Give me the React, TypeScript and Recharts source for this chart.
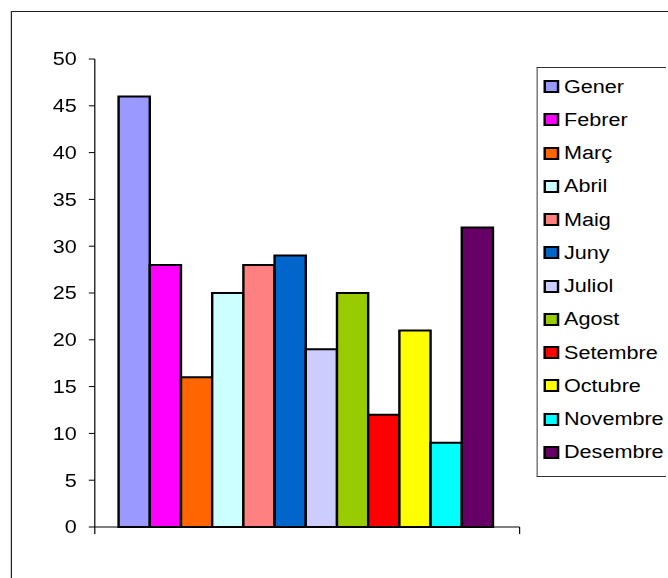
import React from "react";
import { BarChart, Bar, XAxis, YAxis } from "recharts";

const MONTHS = [
  "Gener", "Febrer", "Març", "Abril", "Maig", "Juny",
  "Juliol", "Agost", "Setembre", "Octubre", "Novembre", "Desembre",
];
const VALUES = [46, 28, 16, 25, 28, 29, 19, 25, 12, 21, 9, 32];
const COLORS = [
  "#9999FF", "#FF00FF", "#FF6600", "#CCFFFF", "#FF8080", "#0066CC",
  "#CCCCFF", "#99CC00", "#FF0000", "#FFFF00", "#00FFFF", "#660066",
];
const Y_TICKS = [0, 5, 10, 15, 20, 25, 30, 35, 40, 45, 50];
const EDGE_TICKS = [0, 1];

// the source picture is stretched sideways, so draw narrow and scale up
const STRETCH = 1.2;
const FONT = '"Liberation Sans", Arial, sans-serif';

const row: Record<string, number | string> = { name: "" };
MONTHS.forEach((m, i) => { row[m] = VALUES[i]; });
const data = [row];

function LegendBox() {
  return (
    <div style={{
      position: "absolute",
      left: 447,
      top: 67,
      width: 108,
      height: 410,
      borderTop: "1px solid #333",
      borderLeft: "1px solid #333",
      borderBottom: "1px solid #333",
      paddingTop: 2,
      boxSizing: "border-box",
      background: "#fff",
      overflow: "visible",
      whiteSpace: "nowrap",
    }}>
      {MONTHS.map((m, i) => (
        <div key={m} style={{ height: 33.25, display: "flex", alignItems: "center", paddingLeft: 5 }}>
          <span style={{
            width: 13, height: 13, flex: "none", boxSizing: "border-box",
            border: "2px solid #000", background: COLORS[i], display: "inline-block",
          }} />
          <span style={{ marginLeft: 4, fontSize: 18, lineHeight: 1, color: "#000" }}>{m}</span>
        </div>
      ))}
    </div>
  );
}

export default function App() {
  return (
    <div style={{ position: "fixed", left: 0, top: 0, width: 668, height: 578, overflow: "hidden", background: "#fff" }}>
      <div style={{
        position: "absolute", left: 0, top: 0, width: 557, height: 578,
        transform: `scaleX(${STRETCH})`, transformOrigin: "0 0", fontFamily: FONT,
      }}>
        <div style={{ position: "absolute", left: 9, top: 11, width: 640, height: 640, border: "1px solid #222" }} />
        <div style={{ position: "absolute", left: 0, top: 0 }}>
          <BarChart
            width={557}
            height={578}
            data={data}
            margin={{ top: 59, right: 124, left: 0, bottom: 21 }}
            barCategoryGap="5.6%"
            barGap={0}
          >
            <XAxis xAxisId="cat" dataKey="name" type="category" hide height={0} orientation="top" />
            <XAxis
              xAxisId="frame"
              type="number"
              dataKey={() => 0}
              domain={[0, 1]}
              allowDataOverflow
              ticks={EDGE_TICKS}
              interval={0}
              tickFormatter={() => ""}
              tickSize={7}
              height={30}
              axisLine={{ stroke: "#000" }}
              tickLine={{ stroke: "#000" }}
            />
            <YAxis
              width={79}
              domain={[0, 50]}
              ticks={Y_TICKS}
              interval={0}
              tickSize={5}
              tickMargin={10}
              axisLine={{ stroke: "#000" }}
              tickLine={{ stroke: "#000" }}
              tick={{ fontSize: 18, fill: "#000", fontFamily: FONT }}
            />
            {MONTHS.map((m, i) => (
              <Bar
                key={m}
                xAxisId="cat"
                dataKey={m}
                fill={COLORS[i]}
                stroke="#000"
                strokeWidth={2}
                isAnimationActive={false}
              />
            ))}
          </BarChart>
        </div>
        <LegendBox />
      </div>
    </div>
  );
}
